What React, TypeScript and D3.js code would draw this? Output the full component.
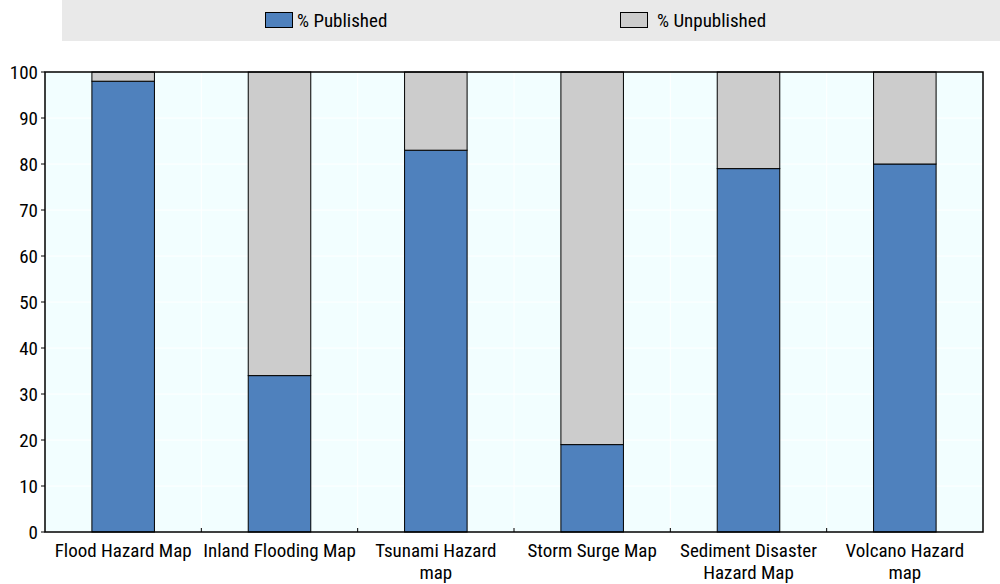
import React from "react";
import * as d3 from "d3";

const categories = [
  ["Flood Hazard Map"],
  ["Inland Flooding Map"],
  ["Tsunami Hazard", "map"],
  ["Storm Surge Map"],
  ["Sediment Disaster", "Hazard Map"],
  ["Volcano Hazard", "map"],
];
const published = [98, 34, 83, 19, 79, 80];
const unpublished = [2, 66, 17, 81, 21, 20];
const yTicks = [0, 10, 20, 30, 40, 50, 60, 70, 80, 90, 100];
const seriesNames = ["% Published", "% Unpublished"];
const colors = ["#4f81bd", "#cccccc"];

const W = 1000;
const H = 584;
const left = 45;
const right = 983;
const top = 72;
const bottom = 532;
const font = "'Liberation Sans Narrow', 'Arial Narrow', 'Roboto Condensed', sans-serif";

export default function App() {
  const idx = categories.map((_, i) => i);
  const x = d3.scaleBand<number>().domain(idx).range([left, right]).paddingInner(0).paddingOuter(0);
  const y = d3.scaleLinear().domain([0, 100]).range([bottom, top]);
  const bw = x.bandwidth() * 0.4;
  const stackData = idx.map((i) => ({ i, p: published[i], u: unpublished[i] }));
  const stack = d3.stack<any>().keys(["p", "u"])(stackData);

  return (
    <svg width={W} height={H} style={{ position: "absolute", left: 0, top: 0, background: "#fff" }} fontFamily={font}>
      {/* legend */}
      <rect x={62} y={0} width={938} height={41} fill="#e9e9e9" />
      {seriesNames.map((n, k) => {
        const lx = k === 0 ? 265 : 620;
        return (
          <g key={n}>
            <rect x={lx + 0.5} y={12.5} width={27} height={15} fill={colors[k]} stroke="#000" strokeWidth={1} />
            <text x={lx + (k === 0 ? 32 : 37)} y={27} fontSize={19} fill="#000">{n}</text>
          </g>
        );
      })}
      {/* plot background */}
      <rect x={left} y={top} width={right - left} height={bottom - top} fill="#f2feff" />
      {yTicks.map((t) => (
        <line key={"g" + t} x1={left} x2={right} y1={y(t)} y2={y(t)} stroke="#ffffff" strokeWidth={1} />
      ))}
      {idx.slice(1).map((i) => (
        <line key={"v" + i} x1={x(i)!} x2={x(i)!} y1={top} y2={bottom} stroke="#ffffff" strokeWidth={1} />
      ))}
      {/* bars */}
      {stack.map((s, k) => (
        <g key={k}>
          {s.map((d: any, j: number) => (
            <rect
              key={j}
              x={x(j)! + (x.bandwidth() - bw) / 2}
              y={y(d[1])}
              width={bw}
              height={y(d[0]) - y(d[1])}
              fill={colors[k]}
              stroke="#000"
              strokeWidth={1}
            />
          ))}
        </g>
      ))}
      {/* frame */}
      <rect x={left} y={top} width={right - left} height={bottom - top} fill="none" stroke="#000" strokeWidth={1.5} />
      {/* y axis ticks */}
      {yTicks.map((t) => (
        <g key={"t" + t}>
          <line x1={left - 4} x2={left} y1={y(t)} y2={y(t)} stroke="#000" strokeWidth={1} />
          <text x={38} y={y(t) + 7} fontSize={19} textAnchor="end" fill="#000">{t}</text>
        </g>
      ))}
      {/* x ticks */}
      {idx.slice(1).map((i) => (
        <line key={"xt" + i} x1={x(i)!} x2={x(i)!} y1={bottom - 4} y2={bottom} stroke="#000" strokeWidth={1} />
      ))}
      {categories.map((lines, i) => (
        <text key={"c" + i} fontSize={19} textAnchor="middle" fill="#000">
          {lines.map((l, li) => (
            <tspan key={li} x={x(i)! + x.bandwidth() / 2} y={557 + li * 22}>{l}</tspan>
          ))}
        </text>
      ))}
    </svg>
  );
}
